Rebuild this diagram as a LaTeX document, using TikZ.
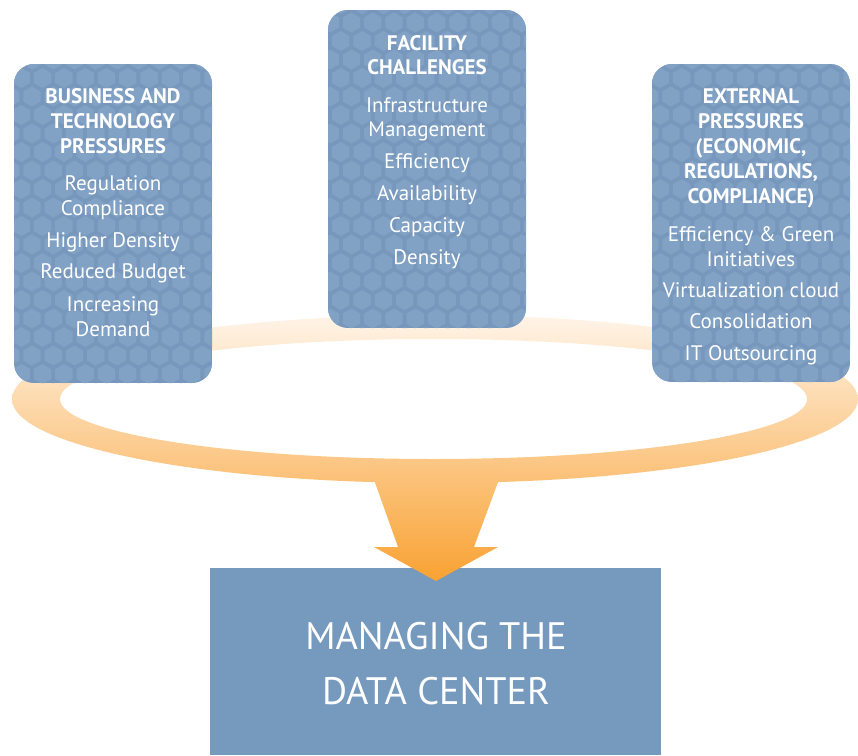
\documentclass[tikz,border=0pt]{standalone}
\usepackage{fontspec}
\setmainfont{PT Sans}
\definecolor{boxbg}{HTML}{7797BC}
\definecolor{hexc}{HTML}{81A2C5}
\definecolor{mainbox}{HTML}{7699BE}
\definecolor{ringtop}{HTML}{FFF4E8}
\definecolor{ringbot}{HTML}{FBC076}
\definecolor{arrtop}{HTML}{FBC47E}
\definecolor{arrbot}{HTML}{F9A233}
\tikzset{
  panelbox/.style={inner sep=0pt, outer sep=0pt, anchor=north west},
  hd/.style={font=\bfseries\fontsize{21}{25}\selectfont, text=white, anchor=base, inner sep=0pt},
  itm/.style={font=\fontsize{21}{25}\selectfont, text=white, anchor=base, inner sep=0pt},
  big/.style={font=\fontsize{38.3}{44}\selectfont, text=white, anchor=base, inner sep=0pt},
}
\newcommand{\mypanel}[9]{% name, x, y, w, h, i0, i1, j0, j1
  \node[panelbox, minimum width=#4pt, minimum height=#5pt] (#1) at (#2,#3) {};
  \begin{scope}
    \clip[rounded corners=20pt] (#1.north west) rectangle (#1.south east);
    \fill[boxbg] (#1.north west) rectangle (#1.south east);
    \foreach \j in {#8,...,#9}{
      \foreach \i in {#6,...,#7}{
        \pgfmathsetmacro\cx{\i*21.3+mod(\j,2)*10.65}
        \pgfmathsetmacro\cy{\j*18.5+4}
        \fill[hexc] (\cx,\cy) +(30:10) -- +(90:10) -- +(150:10) -- +(210:10) -- +(270:10) -- +(330:10) -- cycle;
      }
    }
  \end{scope}
}
\begin{document}
\begin{tikzpicture}[x=1pt,y=-1pt]
\useasboundingbox (0,0) rectangle (858,755);
% bottom box
\node[panelbox, fill=mainbox, minimum width=451pt, minimum height=187pt] (main) at (210,568) {};
% ring
\shade[even odd rule, top color=ringtop, bottom color=ringbot]
  (435,399) ellipse [x radius=423, y radius=84]
  (433.5,399) ellipse [x radius=373.5, y radius=60];
% arrow
\shade[top color=arrtop, bottom color=arrbot]
  (370.5,470) -- (398,547) -- (374,547) -- (436,581) -- (498,547) -- (474,547) -- (502.5,470) -- cycle;
% panels
\mypanel{bt}{14}{64}{198}{319}{0}{10}{2}{21}
\mypanel{fc}{328}{10}{198}{318}{14}{25}{0}{18}
\mypanel{ep}{652}{64}{198}{318}{29}{40}{2}{21}
% left texts
\foreach \t/\yy [count=\k] in {BUSINESS AND/103, TECHNOLOGY/128, PRESSURES/153}
  \node[hd] (bth\k) at (113,\yy) {\t};
\foreach \t/\yy [count=\k] in {Regulation/190, Compliance/215, Higher Density/247, Reduced Budget/278, Increasing/311, Demand/336}
  \node[itm] (bti\k) at (113,\yy) {\t};
% middle texts
\foreach \t/\yy [count=\k] in {FACILITY/50, CHALLENGES/74}
  \node[hd] (fch\k) at (427,\yy) {\t};
\foreach \t/\yy [count=\k] in {Infrastructure/112, Management/136, Efficiency/168, Availability/200, Capacity/232, Density/264}
  \node[itm] (fci\k) at (427,\yy) {\t};
% right texts
\foreach \t/\yy [count=\k] in {EXTERNAL/103, PRESSURES/128, {(ECONOMIC,}/153, {REGULATIONS,}/178, COMPLIANCE)/203}
  \node[hd] (eph\k) at (751,\yy) {\t};
\foreach \t/\yy [count=\k] in {Efficiency \& Green/241, Initiatives/266, Virtualization cloud/297, Consolidation/328, IT Outsourcing/360}
  \node[itm] (epi\k) at (751,\yy) {\t};
% main text
\node[big] (m1) at (436,649) {MANAGING THE};
\node[big] (m2) at (436,704) {DATA CENTER};
\end{tikzpicture}
\end{document}
